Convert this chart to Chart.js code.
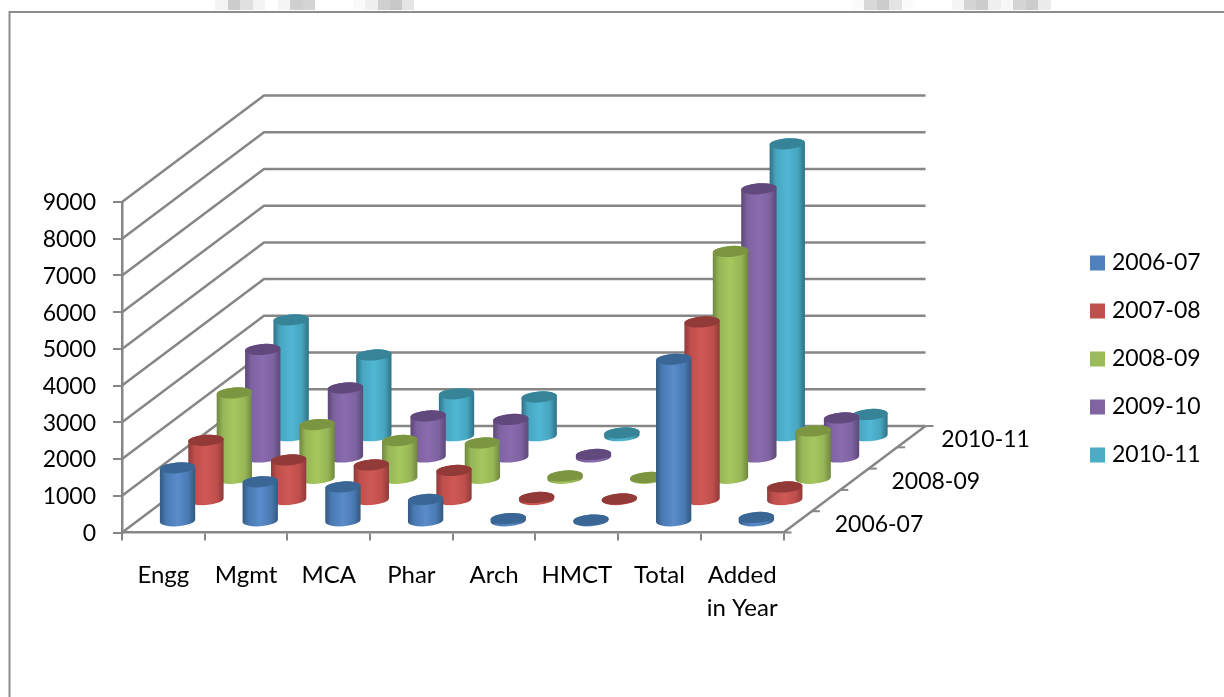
<!DOCTYPE html>
<html>
<head>
<meta charset="utf-8">
<title>Admissions by year</title>
<script src="https://cdn.jsdelivr.net/npm/chart.js@4/dist/chart.umd.js"></script>
<style>
  html, body { margin: 0; padding: 0; background: #fff; overflow: hidden; }
  canvas { display: block; }
</style>
</head>
<body>
<canvas id="chart" width="1224" height="697"></canvas>
<script>
const categories = ['Engg', 'Mgmt', 'MCA', 'Phar', 'Arch', 'HMCT', 'Total', ['Added', 'in Year']];
const seriesNames = ['2006-07', '2007-08', '2008-09', '2009-10', '2010-11'];
const depthLabels = ['2006-07', '2008-09', '2010-11'];

const values0607 = [1470, 1090, 950, 610, 90, 50, 4425, 120];
const values0708 = [1640, 1105, 970, 820, 85, 45, 4865, 370];
const values0809 = [2350, 1490, 1055, 990, 90, 50, 6205, 1315];
const values0910 = [2955, 1905, 1145, 1050, 95, 50, 7330, 1090];
const values1011 = [3180, 2225, 1165, 1080, 100, 50, 7975, 605];

const seriesColors = ['#4f81bd', '#c0504d', '#9bbb59', '#8064a2', '#4bacc6'];
// edge, body, highlight, cap
const seriesShades = [
  ['#34587f', '#4a7ab3', '#5a8ccb', '#3a6695'],
  ['#8e3b39', '#bf4f4c', '#cf5855', '#913a38'],
  ['#6f873f', '#97b656', '#a6c75e', '#7c9540'],
  ['#5c4876', '#7d62a0', '#8a6cae', '#62497d'],
  ['#2f7085', '#47a5bf', '#50b7d4', '#378499']
];

const GRID = '#868686';
const DEPTH_X = 142;
const DEPTH_Y = 106.5;
const ELLIPSE_RY = 5.5;
const ELLIPSE_TILT = -0.07;

const edgeScraps = [
  [215, 13, '#f3f3f3'], [228, 12, '#cccccc'], [240, 13, '#e0e0e0'], [253, 12, '#f3f3f3'],
  [278, 12, '#f5f5f5'], [290, 13, '#d0d0d0'], [303, 12, '#d4d4d4'],
  [353, 12, '#fafafa'], [365, 13, '#f0f0f0'], [378, 12, '#d0d0d0'], [390, 12, '#c8c8c8'], [402, 12, '#e4e4e4'],
  [852, 12, '#fbfbfb'], [864, 13, '#d8d8d8'], [877, 12, '#cccccc'], [889, 13, '#e4e4e4'], [902, 12, '#fbfbfb'],
  [952, 12, '#f5f5f5'], [964, 12, '#d4d4d4'], [976, 12, '#cccccc'], [988, 13, '#f0f0f0'], [1001, 12, '#f8f8f8'],
  [1013, 13, '#d4d4d4'], [1026, 12, '#cccccc'], [1038, 13, '#ececec']
];

Chart.defaults.font.family = 'Lato';
Chart.defaults.font.size = 23;
Chart.defaults.color = '#000';

function line(ctx, points) {
  ctx.beginPath();
  points.forEach((p, i) => (i ? ctx.lineTo(p[0], p[1]) : ctx.moveTo(p[0], p[1])));
  ctx.stroke();
}

const framePlugin = {
  id: 'frame',
  beforeDraw(chart) {
    const c = chart.ctx;
    c.save();
    edgeScraps.forEach((s) => {
      c.fillStyle = s[2];
      c.fillRect(s[0], 0, s[1], 10);
    });
    c.strokeStyle = '#8c8c8c';
    c.lineWidth = 2;
    line(c, [[9.5, chart.height], [9.5, 12], [chart.width, 12]]);
    c.restore();
  }
};

const wallsPlugin = {
  id: 'walls',
  beforeDatasetsDraw(chart) {
    const c = chart.ctx;
    const { left, right, bottom } = chart.chartArea;
    const y = chart.scales.y;
    c.save();
    c.strokeStyle = GRID;
    c.lineWidth = 2.5;
    y.ticks.forEach((t) => {
      const py = y.getPixelForValue(t.value);
      line(c, [[left, py], [left + DEPTH_X, py - DEPTH_Y], [right + DEPTH_X, py - DEPTH_Y]]);
    });
    // floor edge and depth axis ticks
    line(c, [[right, bottom], [right + DEPTH_X, bottom - DEPTH_Y]]);
    c.lineWidth = 2;
    for (let i = 0; i <= seriesNames.length; i++) {
      const f = i / seriesNames.length;
      const tx = right + DEPTH_X * f;
      const ty = bottom - DEPTH_Y * f;
      line(c, [[tx, ty], [tx + 8, ty]]);
    }
    c.fillStyle = '#000';
    c.font = '23px Lato';
    c.textBaseline = 'middle';
    depthLabels.forEach((label, i) => {
      const f = (i * 2 + 0.5) / seriesNames.length;
      c.fillText(label, right + DEPTH_X * f + (i === 2 ? 30 : 37), bottom - DEPTH_Y * f + 2.5);
    });
    c.restore();
  }
};

function drawCylinder(c, bar, shades, ox, oy) {
  const cx = bar.x + ox;
  const top = bar.y + oy;
  const base = bar.base + oy;
  const rx = bar.width / 2;
  const g = c.createLinearGradient(cx - rx, 0, cx + rx, 0);
  g.addColorStop(0, shades[0]);
  g.addColorStop(0.18, shades[1]);
  g.addColorStop(0.5, shades[2]);
  g.addColorStop(0.8, shades[1]);
  g.addColorStop(1, shades[0]);
  c.fillStyle = g;
  c.beginPath();
  c.ellipse(cx, base, rx, ELLIPSE_RY, ELLIPSE_TILT, 0, Math.PI);
  c.ellipse(cx, top, rx, ELLIPSE_RY, ELLIPSE_TILT, Math.PI, Math.PI * 2);
  c.closePath();
  c.fill();
  c.fillStyle = shades[3];
  c.beginPath();
  c.ellipse(cx, top, rx, ELLIPSE_RY, ELLIPSE_TILT, 0, Math.PI * 2);
  c.fill();
}

const cylinderPlugin = {
  id: 'cylinders',
  afterLayout(chart) {
    // the legend sits far to the right of the floor
    chart.legend.left = 1069.5;
    chart.legend.top = 226.5;
    chart.legend.right = chart.width;
    chart.legend.bottom = chart.height;
  },
  beforeDatasetDraw(chart, args) {
    const i = args.index;
    const n = seriesNames.length;
    const ox = DEPTH_X * (i + 0.5) / n;
    const oy = -DEPTH_Y * (i + 0.5) / n;
    args.meta.data.forEach((bar) => {
      drawCylinder(chart.ctx, bar.getProps(['x', 'y', 'base', 'width'], true), seriesShades[i], ox, oy);
    });
    return false;
  }
};

const allValues = [values0607, values0708, values0809, values0910, values1011];

new Chart(document.getElementById('chart'), {
  type: 'bar',
  data: {
    labels: categories,
    datasets: seriesNames.map((name, i) => ({
      label: name,
      data: allValues[i],
      grouped: false,
      barThickness: 35.4,
      backgroundColor: seriesColors[i],
      borderColor: seriesColors[i],
      borderWidth: 9
    }))
  },
  options: {
    responsive: false,
    animation: false,
    layout: { padding: { left: 0, top: 202, right: 440.5, bottom: 0 } },
    plugins: {
      tooltip: { enabled: false },
      legend: {
        position: 'chartArea',
        align: 'start',
        labels: { boxWidth: 6, boxHeight: 6, padding: 25 }
      }
    },
    scales: {
      x: {
        afterFit(scale) { scale.height = 164.5; },
        border: { color: GRID, width: 2.5 },
        grid: { color: GRID, lineWidth: 2, drawOnChartArea: false, tickLength: 8, offset: true },
        ticks: { maxRotation: 0, autoSkip: false, padding: 19, color: '#000', font: { size: 24, lineHeight: 1.35 } }
      },
      y: {
        min: 0,
        max: 9000,
        afterFit(scale) { scale.width = 122; },
        border: { color: GRID, width: 2.5 },
        grid: { color: GRID, lineWidth: 2, drawOnChartArea: false, tickLength: 9 },
        ticks: { stepSize: 1000, padding: 17, labelOffset: 1, color: '#000', callback: (v) => String(v) }
      }
    }
  },
  plugins: [framePlugin, wallsPlugin, cylinderPlugin]
});
</script>
</body>
</html>
